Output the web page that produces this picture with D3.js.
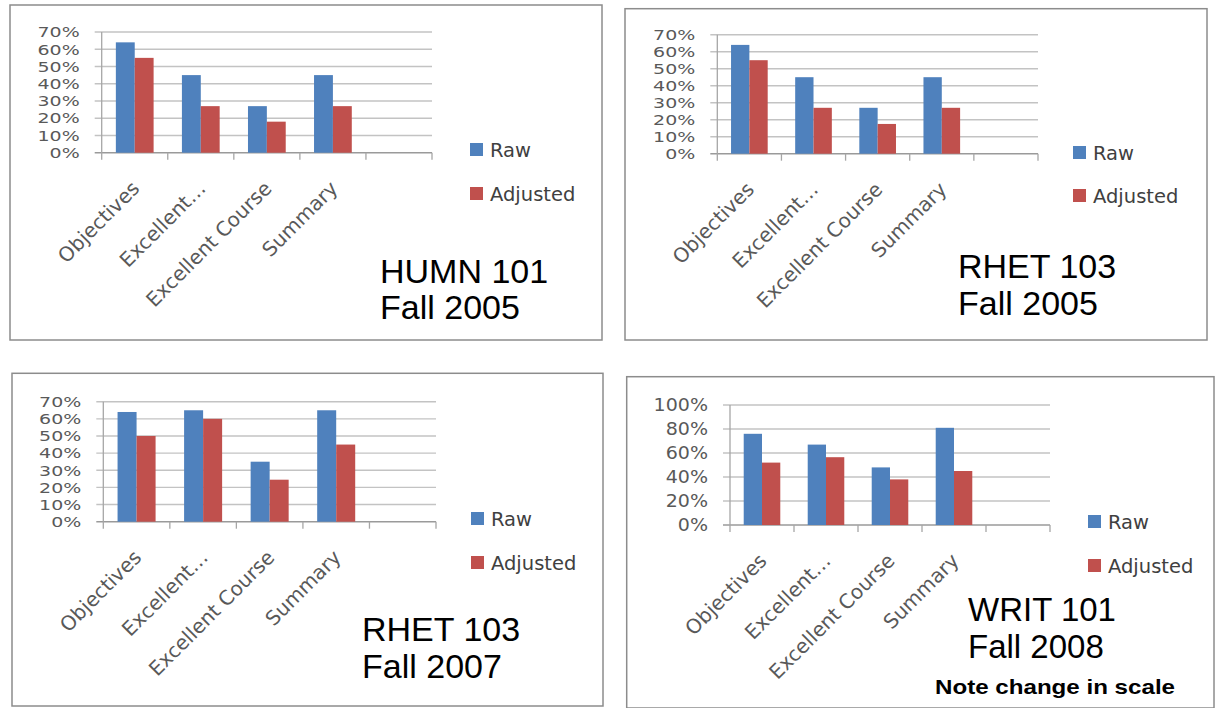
<!DOCTYPE html>
<html>
<head>
<meta charset="utf-8">
<script src="https://cdn.jsdelivr.net/npm/d3@7"></script>
<style>
  html, body { margin: 0; padding: 0; background: #fff; }
  svg { display: block; }
</style>
</head>
<body>
<svg id="chart" width="1215" height="708"></svg>
<script>
// ---------- DATA ----------
const categories = ["Objectives", "Excellent…", "Excellent Course", "Summary", ""];
const seriesNames = ["Raw", "Adjusted"];

const humn101Fall2005Raw      = [0.64, 0.45, 0.27, 0.45, null];
const humn101Fall2005Adjusted = [0.55, 0.27, 0.18, 0.27, null];

const rhet103Fall2005Raw      = [0.64, 0.45, 0.27, 0.45, null];
const rhet103Fall2005Adjusted = [0.55, 0.27, 0.175, 0.27, null];

const rhet103Fall2007Raw      = [0.64, 0.65, 0.35, 0.65, null];
const rhet103Fall2007Adjusted = [0.50, 0.60, 0.245, 0.45, null];

const writ101Fall2008Raw      = [0.76, 0.67, 0.48, 0.81, null];
const writ101Fall2008Adjusted = [0.52, 0.565, 0.38, 0.45, null];

const ticks70  = [0, 0.1, 0.2, 0.3, 0.4, 0.5, 0.6, 0.7];
const ticks100 = [0, 0.2, 0.4, 0.6, 0.8, 1.0];

const titles = [
  ["HUMN 101", "Fall 2005"],
  ["RHET 103", "Fall 2005"],
  ["RHET 103", "Fall 2007"],
  ["WRIT 101", "Fall 2008"]
];
const noteText = "Note change in scale";

// ---------- LAYOUT ----------
const colors = { "Raw": "#4f81bd", "Adjusted": "#c0504d" };

const panels = [
  { box: [10, 5, 602, 340], ax: 101.7, ar: 432, y0: 152.7, yTop: 32, max: 0.7, ticks: ticks70,
    raw: humn101Fall2005Raw, adj: humn101Fall2005Adjusted, legX: 470, legY: [150, 194],
    title: titles[0], tx: 380, ty: [283, 319], tSize: 34, yl: { size: 14.6, sx: 1.3 } },
  { box: [625, 8.7, 1207, 340], ax: 717.3, ar: 1038, y0: 153.7, yTop: 34.7, max: 0.7, ticks: ticks70,
    raw: rhet103Fall2005Raw, adj: rhet103Fall2005Adjusted, legX: 1073, legY: [153, 196],
    title: titles[1], tx: 958, ty: [278, 315], tSize: 34, yl: { size: 14.6, sx: 1.3 } },
  { box: [12, 373.3, 603, 706], ax: 103.3, ar: 436, y0: 521.7, yTop: 401.7, max: 0.7, ticks: ticks70,
    raw: rhet103Fall2007Raw, adj: rhet103Fall2007Adjusted, legX: 471, legY: [519, 563],
    title: titles[2], tx: 362, ty: [641, 678], tSize: 34, yl: { size: 14.6, sx: 1.3 } },
  { box: [626.7, 376.7, 1214, 708], ax: 730, ar: 1050, y0: 525, yTop: 405, max: 1.0, ticks: ticks100,
    raw: writ101Fall2008Raw, adj: writ101Fall2008Adjusted, legX: 1088, legY: [522, 566],
    title: titles[3], tx: 968, ty: [621, 658], tSize: 33, yl: { size: 17, sx: 1.12 }, note: noteText }
];

const svg = d3.select("#chart");
const pct = d3.format(".0%");

panels.forEach(p => {
  const g = svg.append("g");
  // panel border
  g.append("rect")
    .attr("x", p.box[0]).attr("y", p.box[1])
    .attr("width", p.box[2] - p.box[0]).attr("height", p.box[3] - p.box[1])
    .attr("fill", "#fff").attr("stroke", "#8c8c8c").attr("stroke-width", 1.5);

  const x = d3.scaleBand().domain(d3.range(categories.length)).range([p.ax, p.ar]).paddingInner(0).paddingOuter(0);
  const xs = d3.scaleBand().domain(seriesNames).range([0, x.bandwidth()]).paddingInner(0).paddingOuter(0.75);
  const y = d3.scaleLinear().domain([0, p.max]).range([p.y0, p.yTop]);

  // gridlines (+ outside tick)
  g.append("g").selectAll("line").data(p.ticks).join("line")
    .attr("x1", p.ax - 7).attr("x2", p.ar)
    .attr("y1", d => y(d)).attr("y2", d => y(d))
    .attr("stroke", d => d === 0 ? "#9a9a9a" : "#c3c3c3").attr("stroke-width", 1.4);

  // vertical axis
  g.append("line").attr("x1", p.ax).attr("x2", p.ax).attr("y1", p.yTop).attr("y2", p.y0 + 7)
    .attr("stroke", "#a6a6a6").attr("stroke-width", 1.3);

  // category tick marks
  g.append("g").selectAll("line").data(d3.range(1, categories.length + 1)).join("line")
    .attr("x1", d => p.ax + d * x.step()).attr("x2", d => p.ax + d * x.step())
    .attr("y1", p.y0).attr("y2", p.y0 + 7)
    .attr("stroke", "#a6a6a6").attr("stroke-width", 1.3);

  // y tick labels
  g.append("g").selectAll("text").data(p.ticks).join("text")
    .attr("transform", d => `translate(${p.ax - 22},${y(d)}) scale(${p.yl.sx},1)`)
    .attr("dy", "0.36em")
    .attr("text-anchor", "end")
    .attr("font-family", "DejaVu Sans, sans-serif")
    .attr("font-size", p.yl.size)
    .attr("fill", "#595959")
    .text(d => pct(d));

  // bars
  const rows = categories.map((c, i) => ({ i, Raw: p.raw[i], Adjusted: p.adj[i] }));
  g.append("g").selectAll("g").data(rows).join("g")
    .attr("transform", d => `translate(${x(d.i)},0)`)
    .selectAll("rect")
    .data(d => seriesNames.map(s => ({ s, v: d[s] })).filter(e => e.v != null))
    .join("rect")
    .attr("x", d => xs(d.s)).attr("width", xs.bandwidth())
    .attr("y", d => y(d.v)).attr("height", d => p.y0 - y(d.v))
    .attr("fill", d => colors[d.s]);

  // category labels rotated
  g.append("g").selectAll("text").data(categories).join("text")
    .attr("transform", (d, i) => `translate(${x(i) + x.bandwidth() / 2 + 6},${p.y0 + 37}) rotate(-45)`)
    .attr("text-anchor", "end")
    .attr("font-family", "DejaVu Sans, sans-serif")
    .attr("font-size", 20)
    .attr("fill", "#595959")
    .text(d => d);

  // legend
  const leg = g.append("g").selectAll("g").data(seriesNames).join("g")
    .attr("transform", (d, i) => `translate(${p.legX},${p.legY[i]})`);
  leg.append("rect").attr("x", 0).attr("y", -7).attr("width", 13).attr("height", 13)
    .attr("fill", d => colors[d]);
  leg.append("text").attr("x", 20).attr("y", 0).attr("dy", "0.36em")
    .attr("font-family", "DejaVu Sans, sans-serif").attr("font-size", 19.5)
    .attr("fill", "#404040").text(d => d);

  // title
  g.append("g").selectAll("text").data(p.title).join("text")
    .attr("x", p.tx).attr("y", (d, i) => p.ty[i])
    .attr("font-family", "Liberation Sans, Arial, sans-serif")
    .attr("font-size", p.tSize).attr("fill", "#000")
    .text(d => d);

  if (p.note) {
    g.append("text").attr("x", 935).attr("y", 694)
      .attr("font-family", "Liberation Sans, Arial, sans-serif")
      .attr("font-weight", "bold").attr("font-size", 21)
      .attr("textLength", 240).attr("lengthAdjust", "spacingAndGlyphs")
      .attr("fill", "#000").text(p.note);
  }
});
</script>
</body>
</html>
